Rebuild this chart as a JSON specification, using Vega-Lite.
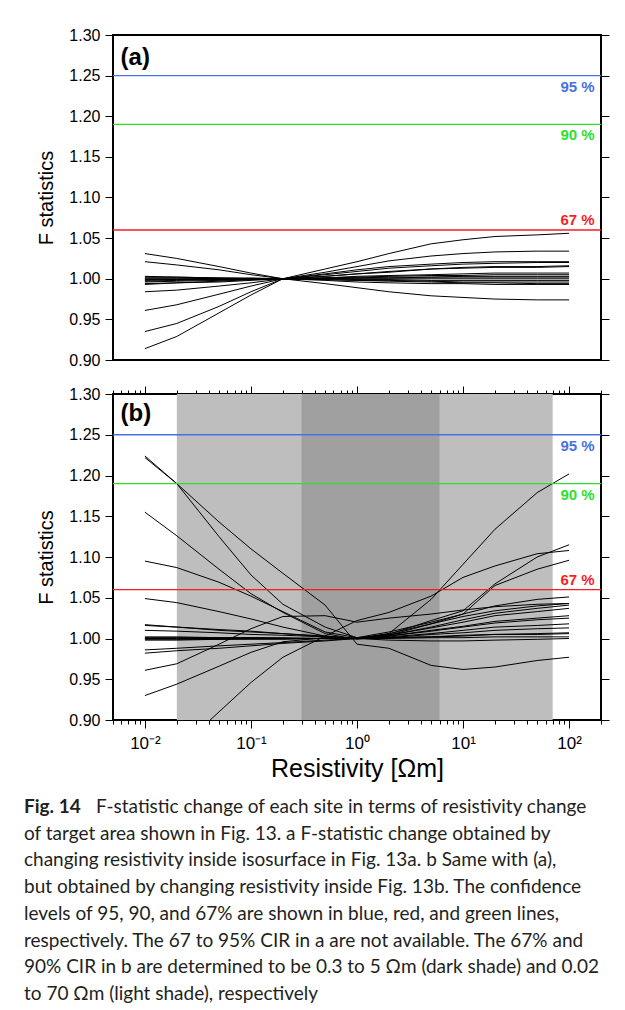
{
  "$schema": "https://vega.github.io/schema/vega-lite/v6.json",
  "padding": {"left": 24, "top": 26, "right": 0, "bottom": 0},
  "spacing": 15,
  "config": {
    "font": "Liberation Sans",
    "view": {"stroke": "black", "strokeWidth": 2},
    "axis": {"domain": false, "grid": false, "tickColor": "black", "tickWidth": 1, "labelColor": "black", "titleColor": "black", "labelFont": "Liberation Sans", "titleFont": "Liberation Sans", "titleFontWeight": "normal", "labelOverlap": false, "labelFlush": false, "labelBound": false},
    "axisY": {
      "values": [0.9,0.91,0.92,0.93,0.94,0.95,0.96,0.97,0.98,0.99,1,1.01,1.02,1.03,1.04,1.05,1.06,1.07,1.08,1.09,1.1,1.11,1.12,1.13,1.14,1.15,1.16,1.17,1.18,1.19,1.2,1.21,1.22,1.23,1.24,1.25,1.26,1.27,1.28,1.29,1.3],
      "labelExpr": "round(datum.value*100) % 5 == 0 ? format(datum.value, '.2f') : ''",
      "tickSize": {"condition": {"test": "round(datum.value*100) % 5 == 0", "value": 8}, "value": 5},
      "labelFontSize": 16, "labelPadding": 5, "titleFontSize": 20, "titlePadding": 12
    },
    "axisX": {
      "values": [0.005,0.006,0.007,0.008,0.009,0.01,0.02,0.03,0.04,0.05,0.06,0.07,0.08,0.09,0.1,0.2,0.3,0.4,0.5,0.6,0.7,0.8,0.9,1,2,3,4,5,6,7,8,9,10,20,30,40,50,60,70,80,90,100,200],
      "labelExpr": "datum.value == 0.01 ? '10⁻²' : datum.value == 0.1 ? '10⁻¹' : datum.value == 1 ? '10⁰' : datum.value == 10 ? '10¹' : datum.value == 100 ? '10²' : ''",
      "tickSize": {"condition": {"test": "abs(log(datum.value)/LN10 - round(log(datum.value)/LN10)) < 0.001", "value": 8}, "value": 4},
      "labelFontSize": 17, "labelPadding": 7, "titleFontSize": 25, "titlePadding": 5
    }
  },
  "datasets": {
    "levels": [
      {"level": "95 %", "F": 1.25, "pos": "below"},
      {"level": "90 %", "F": 1.19, "pos": "below"},
      {"level": "67 %", "F": 1.06, "pos": "above"}
    ],
    "shades": [
      {"shade": "light", "lo": 0.02, "hi": 70},
      {"shade": "dark", "lo": 0.3, "hi": 6}
    ],
    "caption": [
      {"line": 1, "part": "head", "text": "Fig. 14"},
      {"line": 1, "part": "rest", "text": "F-statistic change of each site in terms of resistivity change"},
      {"line": 2, "part": "body", "text": "of target area shown in Fig. 13. a F-statistic change obtained by"},
      {"line": 3, "part": "body", "text": "changing resistivity inside isosurface in Fig. 13a. b Same with (a),"},
      {"line": 4, "part": "body", "text": "but obtained by changing resistivity inside Fig. 13b. The confidence"},
      {"line": 5, "part": "body", "text": "levels of 95, 90, and 67% are shown in blue, red, and green lines,"},
      {"line": 6, "part": "body", "text": "respectively. The 67 to 95% CIR in a are not available. The 67% and"},
      {"line": 7, "part": "body", "text": "90% CIR in b are determined to be 0.3 to 5 Ωm (dark shade) and 0.02"},
      {"line": 8, "part": "body", "text": "to 70 Ωm (light shade), respectively"}
    ],
    "curves": [
      {"p":"a","s":"a1","R":0.01,"F":0.914},{"p":"a","s":"a1","R":0.02,"F":0.929},{"p":"a","s":"a1","R":0.05,"F":0.958},{"p":"a","s":"a1","R":0.1,"F":0.980},{"p":"a","s":"a1","R":0.2,"F":1.000},{"p":"a","s":"a1","R":0.5,"F":1.012},{"p":"a","s":"a1","R":1,"F":1.021},{"p":"a","s":"a1","R":2,"F":1.031},{"p":"a","s":"a1","R":5,"F":1.043},{"p":"a","s":"a1","R":10,"F":1.048},{"p":"a","s":"a1","R":20,"F":1.052},{"p":"a","s":"a1","R":50,"F":1.054},{"p":"a","s":"a1","R":100,"F":1.056},
      {"p":"a","s":"a2","R":0.01,"F":0.935},{"p":"a","s":"a2","R":0.02,"F":0.945},{"p":"a","s":"a2","R":0.05,"F":0.966},{"p":"a","s":"a2","R":0.1,"F":0.984},{"p":"a","s":"a2","R":0.2,"F":1.000},{"p":"a","s":"a2","R":0.5,"F":1.008},{"p":"a","s":"a2","R":1,"F":1.015},{"p":"a","s":"a2","R":2,"F":1.022},{"p":"a","s":"a2","R":5,"F":1.028},{"p":"a","s":"a2","R":10,"F":1.031},{"p":"a","s":"a2","R":20,"F":1.033},{"p":"a","s":"a2","R":50,"F":1.034},{"p":"a","s":"a2","R":100,"F":1.034},
      {"p":"a","s":"a3","R":0.01,"F":0.961},{"p":"a","s":"a3","R":0.02,"F":0.968},{"p":"a","s":"a3","R":0.05,"F":0.981},{"p":"a","s":"a3","R":0.1,"F":0.991},{"p":"a","s":"a3","R":0.2,"F":1.000},{"p":"a","s":"a3","R":0.5,"F":1.006},{"p":"a","s":"a3","R":1,"F":1.011},{"p":"a","s":"a3","R":2,"F":1.015},{"p":"a","s":"a3","R":5,"F":1.018},{"p":"a","s":"a3","R":10,"F":1.020},{"p":"a","s":"a3","R":20,"F":1.021},{"p":"a","s":"a3","R":50,"F":1.021},{"p":"a","s":"a3","R":100,"F":1.021},
      {"p":"a","s":"a4","R":0.01,"F":0.984},{"p":"a","s":"a4","R":0.02,"F":0.986},{"p":"a","s":"a4","R":0.05,"F":0.991},{"p":"a","s":"a4","R":0.1,"F":0.995},{"p":"a","s":"a4","R":0.2,"F":1.000},{"p":"a","s":"a4","R":0.5,"F":1.005},{"p":"a","s":"a4","R":1,"F":1.009},{"p":"a","s":"a4","R":2,"F":1.013},{"p":"a","s":"a4","R":5,"F":1.016},{"p":"a","s":"a4","R":10,"F":1.018},{"p":"a","s":"a4","R":20,"F":1.019},{"p":"a","s":"a4","R":50,"F":1.020},{"p":"a","s":"a4","R":100,"F":1.020},
      {"p":"a","s":"a5","R":0.01,"F":1.031},{"p":"a","s":"a5","R":0.02,"F":1.025},{"p":"a","s":"a5","R":0.05,"F":1.015},{"p":"a","s":"a5","R":0.1,"F":1.007},{"p":"a","s":"a5","R":0.2,"F":1.000},{"p":"a","s":"a5","R":0.5,"F":0.994},{"p":"a","s":"a5","R":1,"F":0.989},{"p":"a","s":"a5","R":2,"F":0.984},{"p":"a","s":"a5","R":5,"F":0.979},{"p":"a","s":"a5","R":10,"F":0.977},{"p":"a","s":"a5","R":20,"F":0.975},{"p":"a","s":"a5","R":50,"F":0.974},{"p":"a","s":"a5","R":100,"F":0.974},
      {"p":"a","s":"a6","R":0.01,"F":1.021},{"p":"a","s":"a6","R":0.02,"F":1.017},{"p":"a","s":"a6","R":0.05,"F":1.011},{"p":"a","s":"a6","R":0.1,"F":1.005},{"p":"a","s":"a6","R":0.2,"F":1.000},{"p":"a","s":"a6","R":0.5,"F":0.998},{"p":"a","s":"a6","R":1,"F":0.996},{"p":"a","s":"a6","R":2,"F":0.995},{"p":"a","s":"a6","R":5,"F":0.994},{"p":"a","s":"a6","R":10,"F":0.994},{"p":"a","s":"a6","R":20,"F":0.993},{"p":"a","s":"a6","R":50,"F":0.993},{"p":"a","s":"a6","R":100,"F":0.993},
      {"p":"a","s":"a7","R":0.01,"F":1.003},{"p":"a","s":"a7","R":0.02,"F":1.002},{"p":"a","s":"a7","R":0.05,"F":1.001},{"p":"a","s":"a7","R":0.1,"F":1.001},{"p":"a","s":"a7","R":0.2,"F":1.000},{"p":"a","s":"a7","R":0.5,"F":1.003},{"p":"a","s":"a7","R":1,"F":1.006},{"p":"a","s":"a7","R":2,"F":1.009},{"p":"a","s":"a7","R":5,"F":1.012},{"p":"a","s":"a7","R":10,"F":1.014},{"p":"a","s":"a7","R":20,"F":1.015},{"p":"a","s":"a7","R":50,"F":1.015},{"p":"a","s":"a7","R":100,"F":1.016},
      {"p":"a","s":"a8","R":0.01,"F":0.997},{"p":"a","s":"a8","R":0.02,"F":0.998},{"p":"a","s":"a8","R":0.05,"F":0.999},{"p":"a","s":"a8","R":0.1,"F":0.999},{"p":"a","s":"a8","R":0.2,"F":1.000},{"p":"a","s":"a8","R":0.5,"F":1.003},{"p":"a","s":"a8","R":1,"F":1.006},{"p":"a","s":"a8","R":2,"F":1.008},{"p":"a","s":"a8","R":5,"F":1.012},{"p":"a","s":"a8","R":10,"F":1.013},{"p":"a","s":"a8","R":20,"F":1.014},{"p":"a","s":"a8","R":50,"F":1.014},{"p":"a","s":"a8","R":100,"F":1.015},
      {"p":"a","s":"a9","R":0.01,"F":1.001},{"p":"a","s":"a9","R":0.02,"F":1.001},{"p":"a","s":"a9","R":0.05,"F":1.000},{"p":"a","s":"a9","R":0.1,"F":1.000},{"p":"a","s":"a9","R":0.2,"F":1.000},{"p":"a","s":"a9","R":0.5,"F":1.001},{"p":"a","s":"a9","R":1,"F":1.003},{"p":"a","s":"a9","R":2,"F":1.004},{"p":"a","s":"a9","R":5,"F":1.005},{"p":"a","s":"a9","R":10,"F":1.006},{"p":"a","s":"a9","R":20,"F":1.007},{"p":"a","s":"a9","R":50,"F":1.007},{"p":"a","s":"a9","R":100,"F":1.007},
      {"p":"a","s":"a10","R":0.01,"F":0.999},{"p":"a","s":"a10","R":0.02,"F":0.999},{"p":"a","s":"a10","R":0.05,"F":1.000},{"p":"a","s":"a10","R":0.1,"F":1.000},{"p":"a","s":"a10","R":0.2,"F":1.000},{"p":"a","s":"a10","R":0.5,"F":1.001},{"p":"a","s":"a10","R":1,"F":1.002},{"p":"a","s":"a10","R":2,"F":1.003},{"p":"a","s":"a10","R":5,"F":1.004},{"p":"a","s":"a10","R":10,"F":1.004},{"p":"a","s":"a10","R":20,"F":1.005},{"p":"a","s":"a10","R":50,"F":1.005},{"p":"a","s":"a10","R":100,"F":1.005},
      {"p":"a","s":"a11","R":0.01,"F":1.002},{"p":"a","s":"a11","R":0.02,"F":1.002},{"p":"a","s":"a11","R":0.05,"F":1.001},{"p":"a","s":"a11","R":0.1,"F":1.000},{"p":"a","s":"a11","R":0.2,"F":1.000},{"p":"a","s":"a11","R":0.5,"F":1.001},{"p":"a","s":"a11","R":1,"F":1.001},{"p":"a","s":"a11","R":2,"F":1.002},{"p":"a","s":"a11","R":5,"F":1.002},{"p":"a","s":"a11","R":10,"F":1.003},{"p":"a","s":"a11","R":20,"F":1.003},{"p":"a","s":"a11","R":50,"F":1.003},{"p":"a","s":"a11","R":100,"F":1.003},
      {"p":"a","s":"a12","R":0.01,"F":0.996},{"p":"a","s":"a12","R":0.02,"F":0.997},{"p":"a","s":"a12","R":0.05,"F":0.998},{"p":"a","s":"a12","R":0.1,"F":0.999},{"p":"a","s":"a12","R":0.2,"F":1.000},{"p":"a","s":"a12","R":0.5,"F":1.000},{"p":"a","s":"a12","R":1,"F":1.001},{"p":"a","s":"a12","R":2,"F":1.001},{"p":"a","s":"a12","R":5,"F":1.002},{"p":"a","s":"a12","R":10,"F":1.002},{"p":"a","s":"a12","R":20,"F":1.002},{"p":"a","s":"a12","R":50,"F":1.002},{"p":"a","s":"a12","R":100,"F":1.002},
      {"p":"a","s":"a13","R":0.01,"F":1.000},{"p":"a","s":"a13","R":0.02,"F":1.000},{"p":"a","s":"a13","R":0.05,"F":1.000},{"p":"a","s":"a13","R":0.1,"F":1.000},{"p":"a","s":"a13","R":0.2,"F":1.000},{"p":"a","s":"a13","R":0.5,"F":1.000},{"p":"a","s":"a13","R":1,"F":1.000},{"p":"a","s":"a13","R":2,"F":1.000},{"p":"a","s":"a13","R":5,"F":1.000},{"p":"a","s":"a13","R":10,"F":1.000},{"p":"a","s":"a13","R":20,"F":1.000},{"p":"a","s":"a13","R":50,"F":1.000},{"p":"a","s":"a13","R":100,"F":1.000},
      {"p":"a","s":"a14","R":0.01,"F":0.994},{"p":"a","s":"a14","R":0.02,"F":0.995},{"p":"a","s":"a14","R":0.05,"F":0.997},{"p":"a","s":"a14","R":0.1,"F":0.999},{"p":"a","s":"a14","R":0.2,"F":1.000},{"p":"a","s":"a14","R":0.5,"F":1.000},{"p":"a","s":"a14","R":1,"F":0.999},{"p":"a","s":"a14","R":2,"F":0.999},{"p":"a","s":"a14","R":5,"F":0.998},{"p":"a","s":"a14","R":10,"F":0.998},{"p":"a","s":"a14","R":20,"F":0.998},{"p":"a","s":"a14","R":50,"F":0.998},{"p":"a","s":"a14","R":100,"F":0.998},
      {"p":"a","s":"a15","R":0.01,"F":0.998},{"p":"a","s":"a15","R":0.02,"F":0.999},{"p":"a","s":"a15","R":0.05,"F":0.999},{"p":"a","s":"a15","R":0.1,"F":1.000},{"p":"a","s":"a15","R":0.2,"F":1.000},{"p":"a","s":"a15","R":0.5,"F":0.999},{"p":"a","s":"a15","R":1,"F":0.998},{"p":"a","s":"a15","R":2,"F":0.998},{"p":"a","s":"a15","R":5,"F":0.997},{"p":"a","s":"a15","R":10,"F":0.996},{"p":"a","s":"a15","R":20,"F":0.996},{"p":"a","s":"a15","R":50,"F":0.996},{"p":"a","s":"a15","R":100,"F":0.996},
      {"p":"a","s":"a16","R":0.01,"F":0.993},{"p":"a","s":"a16","R":0.02,"F":0.995},{"p":"a","s":"a16","R":0.05,"F":0.996},{"p":"a","s":"a16","R":0.1,"F":0.998},{"p":"a","s":"a16","R":0.2,"F":1.000},{"p":"a","s":"a16","R":0.5,"F":0.999},{"p":"a","s":"a16","R":1,"F":0.998},{"p":"a","s":"a16","R":2,"F":0.997},{"p":"a","s":"a16","R":5,"F":0.996},{"p":"a","s":"a16","R":10,"F":0.995},{"p":"a","s":"a16","R":20,"F":0.995},{"p":"a","s":"a16","R":50,"F":0.994},{"p":"a","s":"a16","R":100,"F":0.994},

      {"p":"b","s":"b1","R":0.01,"F":1.224},{"p":"b","s":"b1","R":0.02,"F":1.190},{"p":"b","s":"b1","R":0.05,"F":1.143},{"p":"b","s":"b1","R":0.1,"F":1.110},{"p":"b","s":"b1","R":0.2,"F":1.080},{"p":"b","s":"b1","R":0.5,"F":1.041},{"p":"b","s":"b1","R":1,"F":0.993},{"p":"b","s":"b1","R":2,"F":0.988},{"p":"b","s":"b1","R":5,"F":0.967},{"p":"b","s":"b1","R":10,"F":0.962},{"p":"b","s":"b1","R":20,"F":0.965},{"p":"b","s":"b1","R":50,"F":0.973},{"p":"b","s":"b1","R":100,"F":0.977},
      {"p":"b","s":"b2","R":0.01,"F":1.222},{"p":"b","s":"b2","R":0.02,"F":1.190},{"p":"b","s":"b2","R":0.05,"F":1.125},{"p":"b","s":"b2","R":0.1,"F":1.078},{"p":"b","s":"b2","R":0.2,"F":1.042},{"p":"b","s":"b2","R":0.5,"F":1.014},{"p":"b","s":"b2","R":1,"F":1.001},{"p":"b","s":"b2","R":2,"F":1.005},{"p":"b","s":"b2","R":5,"F":1.022},{"p":"b","s":"b2","R":10,"F":1.034},{"p":"b","s":"b2","R":20,"F":1.067},{"p":"b","s":"b2","R":50,"F":1.100},{"p":"b","s":"b2","R":100,"F":1.115},
      {"p":"b","s":"b3","R":0.01,"F":1.155},{"p":"b","s":"b3","R":0.02,"F":1.126},{"p":"b","s":"b3","R":0.05,"F":1.085},{"p":"b","s":"b3","R":0.1,"F":1.055},{"p":"b","s":"b3","R":0.2,"F":1.032},{"p":"b","s":"b3","R":0.5,"F":1.006},{"p":"b","s":"b3","R":1,"F":0.999},{"p":"b","s":"b3","R":2,"F":1.004},{"p":"b","s":"b3","R":5,"F":1.018},{"p":"b","s":"b3","R":10,"F":1.030},{"p":"b","s":"b3","R":20,"F":1.065},{"p":"b","s":"b3","R":50,"F":1.085},{"p":"b","s":"b3","R":100,"F":1.096},
      {"p":"b","s":"b4","R":0.01,"F":1.095},{"p":"b","s":"b4","R":0.02,"F":1.087},{"p":"b","s":"b4","R":0.05,"F":1.069},{"p":"b","s":"b4","R":0.1,"F":1.052},{"p":"b","s":"b4","R":0.2,"F":1.033},{"p":"b","s":"b4","R":0.5,"F":1.008},{"p":"b","s":"b4","R":1,"F":1.001},{"p":"b","s":"b4","R":2,"F":1.008},{"p":"b","s":"b4","R":5,"F":1.020},{"p":"b","s":"b4","R":10,"F":1.030},{"p":"b","s":"b4","R":20,"F":1.040},{"p":"b","s":"b4","R":50,"F":1.048},{"p":"b","s":"b4","R":100,"F":1.051},
      {"p":"b","s":"b5","R":0.01,"F":1.049},{"p":"b","s":"b5","R":0.02,"F":1.044},{"p":"b","s":"b5","R":0.05,"F":1.033},{"p":"b","s":"b5","R":0.1,"F":1.024},{"p":"b","s":"b5","R":0.2,"F":1.014},{"p":"b","s":"b5","R":0.5,"F":1.003},{"p":"b","s":"b5","R":1,"F":1.000},{"p":"b","s":"b5","R":2,"F":1.006},{"p":"b","s":"b5","R":5,"F":1.018},{"p":"b","s":"b5","R":10,"F":1.027},{"p":"b","s":"b5","R":20,"F":1.034},{"p":"b","s":"b5","R":50,"F":1.040},{"p":"b","s":"b5","R":100,"F":1.043},
      {"p":"b","s":"b6","R":0.01,"F":1.017},{"p":"b","s":"b6","R":0.02,"F":1.014},{"p":"b","s":"b6","R":0.05,"F":1.011},{"p":"b","s":"b6","R":0.1,"F":1.009},{"p":"b","s":"b6","R":0.2,"F":1.006},{"p":"b","s":"b6","R":0.5,"F":1.003},{"p":"b","s":"b6","R":1,"F":1.000},{"p":"b","s":"b6","R":2,"F":1.004},{"p":"b","s":"b6","R":5,"F":1.014},{"p":"b","s":"b6","R":10,"F":1.023},{"p":"b","s":"b6","R":20,"F":1.031},{"p":"b","s":"b6","R":50,"F":1.037},{"p":"b","s":"b6","R":100,"F":1.041},
      {"p":"b","s":"b7","R":0.01,"F":1.016},{"p":"b","s":"b7","R":0.02,"F":1.014},{"p":"b","s":"b7","R":0.05,"F":1.010},{"p":"b","s":"b7","R":0.1,"F":1.008},{"p":"b","s":"b7","R":0.2,"F":1.006},{"p":"b","s":"b7","R":0.5,"F":1.002},{"p":"b","s":"b7","R":1,"F":1.000},{"p":"b","s":"b7","R":2,"F":1.004},{"p":"b","s":"b7","R":5,"F":1.013},{"p":"b","s":"b7","R":10,"F":1.020},{"p":"b","s":"b7","R":20,"F":1.028},{"p":"b","s":"b7","R":50,"F":1.033},{"p":"b","s":"b7","R":100,"F":1.037},
      {"p":"b","s":"b8","R":0.01,"F":1.010},{"p":"b","s":"b8","R":0.02,"F":1.009},{"p":"b","s":"b8","R":0.05,"F":1.007},{"p":"b","s":"b8","R":0.1,"F":1.005},{"p":"b","s":"b8","R":0.2,"F":1.004},{"p":"b","s":"b8","R":0.5,"F":1.002},{"p":"b","s":"b8","R":1,"F":1.000},{"p":"b","s":"b8","R":2,"F":1.003},{"p":"b","s":"b8","R":5,"F":1.010},{"p":"b","s":"b8","R":10,"F":1.015},{"p":"b","s":"b8","R":20,"F":1.021},{"p":"b","s":"b8","R":50,"F":1.025},{"p":"b","s":"b8","R":100,"F":1.028},
      {"p":"b","s":"b9","R":0.01,"F":1.002},{"p":"b","s":"b9","R":0.02,"F":1.002},{"p":"b","s":"b9","R":0.05,"F":1.001},{"p":"b","s":"b9","R":0.1,"F":1.001},{"p":"b","s":"b9","R":0.2,"F":1.001},{"p":"b","s":"b9","R":0.5,"F":1.000},{"p":"b","s":"b9","R":1,"F":1.000},{"p":"b","s":"b9","R":2,"F":1.003},{"p":"b","s":"b9","R":5,"F":1.009},{"p":"b","s":"b9","R":10,"F":1.014},{"p":"b","s":"b9","R":20,"F":1.019},{"p":"b","s":"b9","R":50,"F":1.023},{"p":"b","s":"b9","R":100,"F":1.025},
      {"p":"b","s":"b10","R":0.01,"F":1.000},{"p":"b","s":"b10","R":0.02,"F":1.000},{"p":"b","s":"b10","R":0.05,"F":1.000},{"p":"b","s":"b10","R":0.1,"F":1.000},{"p":"b","s":"b10","R":0.2,"F":1.000},{"p":"b","s":"b10","R":0.5,"F":1.000},{"p":"b","s":"b10","R":1,"F":1.000},{"p":"b","s":"b10","R":2,"F":1.002},{"p":"b","s":"b10","R":5,"F":1.006},{"p":"b","s":"b10","R":10,"F":1.010},{"p":"b","s":"b10","R":20,"F":1.014},{"p":"b","s":"b10","R":50,"F":1.016},{"p":"b","s":"b10","R":100,"F":1.018},
      {"p":"b","s":"b11","R":0.01,"F":0.999},{"p":"b","s":"b11","R":0.02,"F":0.999},{"p":"b","s":"b11","R":0.05,"F":0.999},{"p":"b","s":"b11","R":0.1,"F":1.000},{"p":"b","s":"b11","R":0.2,"F":1.000},{"p":"b","s":"b11","R":0.5,"F":1.000},{"p":"b","s":"b11","R":1,"F":1.000},{"p":"b","s":"b11","R":2,"F":1.001},{"p":"b","s":"b11","R":5,"F":1.005},{"p":"b","s":"b11","R":10,"F":1.007},{"p":"b","s":"b11","R":20,"F":1.010},{"p":"b","s":"b11","R":50,"F":1.012},{"p":"b","s":"b11","R":100,"F":1.013},
      {"p":"b","s":"b12","R":0.01,"F":1.001},{"p":"b","s":"b12","R":0.02,"F":1.001},{"p":"b","s":"b12","R":0.05,"F":1.001},{"p":"b","s":"b12","R":0.1,"F":1.001},{"p":"b","s":"b12","R":0.2,"F":1.000},{"p":"b","s":"b12","R":0.5,"F":1.000},{"p":"b","s":"b12","R":1,"F":1.000},{"p":"b","s":"b12","R":2,"F":1.001},{"p":"b","s":"b12","R":5,"F":1.002},{"p":"b","s":"b12","R":10,"F":1.004},{"p":"b","s":"b12","R":20,"F":1.005},{"p":"b","s":"b12","R":50,"F":1.006},{"p":"b","s":"b12","R":100,"F":1.007},
      {"p":"b","s":"b13","R":0.01,"F":0.998},{"p":"b","s":"b13","R":0.02,"F":0.998},{"p":"b","s":"b13","R":0.05,"F":0.999},{"p":"b","s":"b13","R":0.1,"F":0.999},{"p":"b","s":"b13","R":0.2,"F":0.999},{"p":"b","s":"b13","R":0.5,"F":1.000},{"p":"b","s":"b13","R":1,"F":1.000},{"p":"b","s":"b13","R":2,"F":1.001},{"p":"b","s":"b13","R":5,"F":1.002},{"p":"b","s":"b13","R":10,"F":1.003},{"p":"b","s":"b13","R":20,"F":1.005},{"p":"b","s":"b13","R":50,"F":1.005},{"p":"b","s":"b13","R":100,"F":1.006},
      {"p":"b","s":"b14","R":0.01,"F":0.986},{"p":"b","s":"b14","R":0.02,"F":0.988},{"p":"b","s":"b14","R":0.05,"F":0.991},{"p":"b","s":"b14","R":0.1,"F":0.993},{"p":"b","s":"b14","R":0.2,"F":0.995},{"p":"b","s":"b14","R":0.5,"F":0.998},{"p":"b","s":"b14","R":1,"F":1.000},{"p":"b","s":"b14","R":2,"F":1.000},{"p":"b","s":"b14","R":5,"F":1.001},{"p":"b","s":"b14","R":10,"F":1.001},{"p":"b","s":"b14","R":20,"F":1.002},{"p":"b","s":"b14","R":50,"F":1.002},{"p":"b","s":"b14","R":100,"F":1.002},
      {"p":"b","s":"b15","R":0.01,"F":0.982},{"p":"b","s":"b15","R":0.02,"F":0.985},{"p":"b","s":"b15","R":0.05,"F":0.988},{"p":"b","s":"b15","R":0.1,"F":0.991},{"p":"b","s":"b15","R":0.2,"F":0.994},{"p":"b","s":"b15","R":0.5,"F":0.997},{"p":"b","s":"b15","R":1,"F":1.000},{"p":"b","s":"b15","R":2,"F":0.998},{"p":"b","s":"b15","R":5,"F":0.997},{"p":"b","s":"b15","R":10,"F":0.997},{"p":"b","s":"b15","R":20,"F":0.998},{"p":"b","s":"b15","R":50,"F":0.999},{"p":"b","s":"b15","R":100,"F":1.000},
      {"p":"b","s":"b16","R":0.01,"F":0.930},{"p":"b","s":"b16","R":0.02,"F":0.944},{"p":"b","s":"b16","R":0.05,"F":0.966},{"p":"b","s":"b16","R":0.1,"F":0.983},{"p":"b","s":"b16","R":0.2,"F":0.996},{"p":"b","s":"b16","R":0.5,"F":1.001},{"p":"b","s":"b16","R":1,"F":1.000},{"p":"b","s":"b16","R":2,"F":1.006},{"p":"b","s":"b16","R":5,"F":1.048},{"p":"b","s":"b16","R":10,"F":1.091},{"p":"b","s":"b16","R":20,"F":1.134},{"p":"b","s":"b16","R":50,"F":1.179},{"p":"b","s":"b16","R":100,"F":1.202},
      {"p":"b","s":"b17","R":0.01,"F":0.961},{"p":"b","s":"b17","R":0.02,"F":0.969},{"p":"b","s":"b17","R":0.05,"F":0.993},{"p":"b","s":"b17","R":0.1,"F":1.012},{"p":"b","s":"b17","R":0.2,"F":1.027},{"p":"b","s":"b17","R":0.5,"F":1.028},{"p":"b","s":"b17","R":1,"F":1.020},{"p":"b","s":"b17","R":2,"F":1.025},{"p":"b","s":"b17","R":5,"F":1.030},{"p":"b","s":"b17","R":10,"F":1.035},{"p":"b","s":"b17","R":20,"F":1.039},{"p":"b","s":"b17","R":50,"F":1.042},{"p":"b","s":"b17","R":100,"F":1.043},
      {"p":"b","s":"b18","R":0.01,"F":0.826},{"p":"b","s":"b18","R":0.02,"F":0.862},{"p":"b","s":"b18","R":0.05,"F":0.910},{"p":"b","s":"b18","R":0.1,"F":0.946},{"p":"b","s":"b18","R":0.2,"F":0.977},{"p":"b","s":"b18","R":0.5,"F":1.003},{"p":"b","s":"b18","R":1,"F":1.022},{"p":"b","s":"b18","R":2,"F":1.032},{"p":"b","s":"b18","R":5,"F":1.052},{"p":"b","s":"b18","R":10,"F":1.075},{"p":"b","s":"b18","R":20,"F":1.089},{"p":"b","s":"b18","R":50,"F":1.104},{"p":"b","s":"b18","R":100,"F":1.108}
    ]
  },
  "vconcat": [
    {
      "width": 488,
      "height": 325,
      "layer": [
        {
          "data": {"name": "curves"},
          "transform": [{"filter": "datum.p == 'a'"}],
          "mark": {"type": "line", "color": "black", "strokeWidth": 1, "clip": true},
          "encoding": {
            "x": {"field": "R", "type": "quantitative", "scale": {"type": "log", "domain": [0.005, 200]}, "axis": null},
            "y": {"field": "F", "type": "quantitative", "scale": {"domain": [0.9, 1.3], "nice": false, "zero": false}, "axis": {"orient": "left", "title": "F statistics"}},
            "detail": {"field": "s"}
          }
        },
        {
          "data": {"name": "levels"},
          "mark": {"type": "rule", "strokeWidth": 1.3},
          "encoding": {
            "y": {"field": "F", "type": "quantitative", "scale": {"domain": [0.9, 1.3], "nice": false, "zero": false}, "axis": {"orient": "right", "labels": false, "title": null}},
            "color": {"field": "level", "type": "nominal", "scale": {"domain": ["95 %", "90 %", "67 %"], "range": ["#4b70e2", "#2ee02e", "#f41f1f"]}, "legend": null}
          }
        },
        {
          "data": {"name": "levels"},
          "transform": [{"filter": "datum.pos == 'below'"}],
          "mark": {"type": "text", "align": "right", "baseline": "middle", "dy": 11, "fontSize": 15, "fontWeight": "bold"},
          "encoding": {
            "x": {"datum": 174, "type": "quantitative", "scale": {"type": "log", "domain": [0.005, 200]}, "axis": null},
            "y": {"field": "F", "type": "quantitative", "scale": {"domain": [0.9, 1.3], "nice": false, "zero": false}, "axis": null},
            "text": {"field": "level"},
            "color": {"field": "level", "type": "nominal", "legend": null}
          }
        },
        {
          "data": {"name": "levels"},
          "transform": [{"filter": "datum.pos == 'above'"}],
          "mark": {"type": "text", "align": "right", "baseline": "middle", "dy": -10, "fontSize": 15, "fontWeight": "bold"},
          "encoding": {
            "x": {"datum": 174, "type": "quantitative", "scale": {"type": "log", "domain": [0.005, 200]}, "axis": null},
            "y": {"field": "F", "type": "quantitative", "scale": {"domain": [0.9, 1.3], "nice": false, "zero": false}, "axis": null},
            "text": {"field": "level"},
            "color": {"field": "level", "type": "nominal", "legend": null}
          }
        },
        {
          "data": {"values": [{"label": "(a)"}]},
          "mark": {"type": "text", "align": "left", "baseline": "middle", "fontSize": 24, "fontWeight": "bold", "color": "black"},
          "encoding": {
            "x": {"datum": 0.0059, "type": "quantitative", "scale": {"type": "log", "domain": [0.005, 200]}, "axis": null},
            "y": {"datum": 1.272, "type": "quantitative", "scale": {"domain": [0.9, 1.3], "nice": false, "zero": false}, "axis": null},
            "text": {"field": "label"}
          }
        }
      ],
      "resolve": {"axis": {"x": "independent", "y": "independent"}}
    },
    {
      "width": 488,
      "height": 326,
      "layer": [
        {
          "data": {"name": "shades"},
          "transform": [{"filter": "datum.shade == 'light'"}],
          "mark": {"type": "rect", "color": "#bebebe"},
          "encoding": {
            "x": {"field": "lo", "type": "quantitative", "scale": {"type": "log", "domain": [0.005, 200]}, "axis": {"orient": "bottom", "title": "Resistivity [Ωm]"}},
            "x2": {"field": "hi"}
          }
        },
        {
          "data": {"name": "shades"},
          "transform": [{"filter": "datum.shade == 'dark'"}],
          "mark": {"type": "rect", "color": "#a0a0a0"},
          "encoding": {
            "x": {"field": "lo", "type": "quantitative", "scale": {"type": "log", "domain": [0.005, 200]}, "axis": null},
            "x2": {"field": "hi"}
          }
        },
        {
          "data": {"name": "curves"},
          "transform": [{"filter": "datum.p == 'b'"}],
          "mark": {"type": "line", "color": "black", "strokeWidth": 1, "clip": true},
          "encoding": {
            "x": {"field": "R", "type": "quantitative", "scale": {"type": "log", "domain": [0.005, 200]}, "axis": {"orient": "top", "labels": false, "title": null}},
            "y": {"field": "F", "type": "quantitative", "scale": {"domain": [0.9, 1.3], "nice": false, "zero": false}, "axis": {"orient": "left", "title": "F statistics"}},
            "detail": {"field": "s"}
          }
        },
        {
          "data": {"name": "levels"},
          "mark": {"type": "rule", "strokeWidth": 1.3},
          "encoding": {
            "y": {"field": "F", "type": "quantitative", "scale": {"domain": [0.9, 1.3], "nice": false, "zero": false}, "axis": {"orient": "right", "labels": false, "title": null}},
            "color": {"field": "level", "type": "nominal", "scale": {"domain": ["95 %", "90 %", "67 %"], "range": ["#4b70e2", "#2ee02e", "#f41f1f"]}, "legend": null}
          }
        },
        {
          "data": {"name": "levels"},
          "transform": [{"filter": "datum.pos == 'below'"}],
          "mark": {"type": "text", "align": "right", "baseline": "middle", "dy": 11, "fontSize": 15, "fontWeight": "bold"},
          "encoding": {
            "x": {"datum": 174, "type": "quantitative", "scale": {"type": "log", "domain": [0.005, 200]}, "axis": null},
            "y": {"field": "F", "type": "quantitative", "scale": {"domain": [0.9, 1.3], "nice": false, "zero": false}, "axis": null},
            "text": {"field": "level"},
            "color": {"field": "level", "type": "nominal", "legend": null}
          }
        },
        {
          "data": {"name": "levels"},
          "transform": [{"filter": "datum.pos == 'above'"}],
          "mark": {"type": "text", "align": "right", "baseline": "middle", "dy": -10, "fontSize": 15, "fontWeight": "bold"},
          "encoding": {
            "x": {"datum": 174, "type": "quantitative", "scale": {"type": "log", "domain": [0.005, 200]}, "axis": null},
            "y": {"field": "F", "type": "quantitative", "scale": {"domain": [0.9, 1.3], "nice": false, "zero": false}, "axis": null},
            "text": {"field": "level"},
            "color": {"field": "level", "type": "nominal", "legend": null}
          }
        },
        {
          "data": {"values": [{"label": "(b)"}]},
          "mark": {"type": "text", "align": "left", "baseline": "middle", "fontSize": 24, "fontWeight": "bold", "color": "black"},
          "encoding": {
            "x": {"datum": 0.0059, "type": "quantitative", "scale": {"type": "log", "domain": [0.005, 200]}, "axis": null},
            "y": {"datum": 1.276, "type": "quantitative", "scale": {"domain": [0.9, 1.3], "nice": false, "zero": false}, "axis": null},
            "text": {"field": "label"}
          }
        }
      ],
      "resolve": {"axis": {"x": "independent", "y": "independent"}}
    },
    {
      "width": 480,
      "height": 210,
      "view": {"stroke": null},
      "data": {"name": "caption"},
      "layer": [
        {
          "transform": [{"filter": "datum.part == 'body'"}],
          "mark": {"type": "text", "align": "left", "baseline": "middle", "font": "Lato", "fontSize": 19, "dx": -89, "color": "#231f20"},
          "encoding": {
            "x": {"value": 0},
            "y": {"field": "line", "type": "quantitative", "scale": {"domain": [1.15, 9.0], "reverse": true}, "axis": null},
            "text": {"field": "text"}
          }
        },
        {
          "transform": [{"filter": "datum.part == 'head'"}],
          "mark": {"type": "text", "align": "left", "baseline": "middle", "font": "Lato", "fontSize": 19, "fontWeight": "bold", "dx": -89, "color": "#231f20"},
          "encoding": {
            "x": {"value": 0},
            "y": {"field": "line", "type": "quantitative", "scale": {"domain": [1.15, 9.0], "reverse": true}, "axis": null},
            "text": {"field": "text"}
          }
        },
        {
          "transform": [{"filter": "datum.part == 'rest'"}],
          "mark": {"type": "text", "align": "left", "baseline": "middle", "font": "Lato", "fontSize": 19, "dx": -17, "color": "#231f20"},
          "encoding": {
            "x": {"value": 0},
            "y": {"field": "line", "type": "quantitative", "scale": {"domain": [1.15, 9.0], "reverse": true}, "axis": null},
            "text": {"field": "text"}
          }
        }
      ]
    }
  ]
}
